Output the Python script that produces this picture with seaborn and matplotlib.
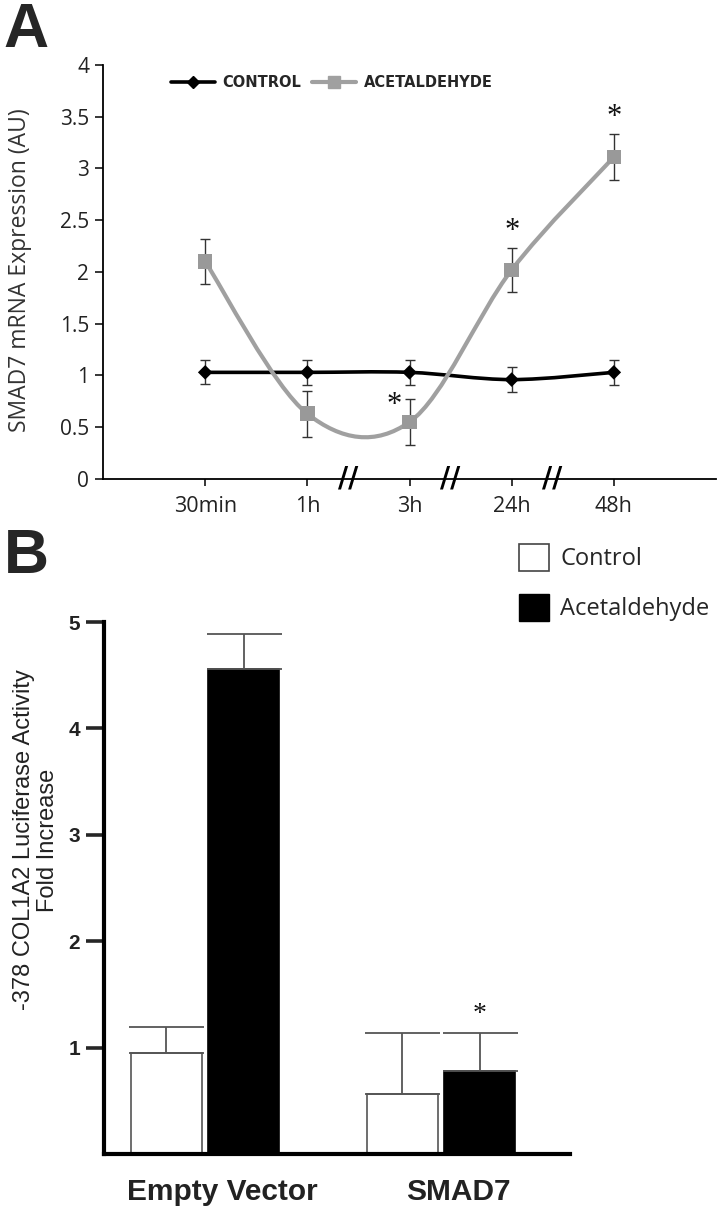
import numpy as np
import pandas as pd
import matplotlib
matplotlib.use('Agg')
import matplotlib.pyplot as plt
import seaborn as sns
from matplotlib.path import Path
from matplotlib.patches import PathPatch, Patch
from matplotlib.lines import Line2D
from matplotlib.transforms import ScaledTranslation

# --- panel A: SMAD7 mRNA over time ---
time_points = ['30min', '1h', '3h', '24h', '48h']
control_mean = [1.03, 1.03, 1.03, 0.96, 1.03]
control_err = [0.115, 0.12, 0.12, 0.12, 0.12]
acet_mean = [2.10, 0.63, 0.55, 2.02, 3.11]
acet_err = [0.215, 0.22, 0.22, 0.215, 0.22]
acet_signif = ['3h', '24h', '48h']

# --- panel B: luciferase reporter ---
constructs = ['Empty Vector', 'SMAD7']
treatments = ['Control', 'Acetaldehyde']
luc_control = [0.95, 0.56]
luc_control_err = [0.24, 0.58]
luc_acet = [4.56, 0.78]
luc_acet_err = [0.33, 0.36]
luc_signif = ['SMAD7']

sns.set_style('white')
plt.rcParams['font.family'] = ['Open Sans', 'DejaVu Sans']


def smooth_path(xs, ys):
    # excel-like smoothed line (bezier through every point)
    pts = np.column_stack([xs, ys]).astype(float)
    n = len(pts)
    verts = [pts[0]]
    codes = [Path.MOVETO]
    for i in range(n - 1):
        p0 = pts[max(i - 1, 0)]
        p1 = pts[i]
        p2 = pts[i + 1]
        p3 = pts[min(i + 2, n - 1)]
        verts += [p1 + (p2 - p0) / 6, p2 - (p3 - p1) / 6, p2]
        codes += [Path.CURVE4] * 3
    return Path(verts, codes)


fig = plt.figure(figsize=(7.19, 12.24), dpi=100)

# ================= A =================
axA = fig.add_axes([0.1433, 0.6087, 0.8525, 0.3382])
x_idx = np.arange(len(time_points))
grey = '#a0a0a0'

dfA = pd.DataFrame({
    't': np.tile(x_idx, 2),
    'expr': control_mean + acet_mean,
    'group': ['CONTROL'] * len(time_points) + ['ACETALDEHYDE'] * len(time_points),
})

axA.errorbar(x_idx, control_mean, yerr=control_err, fmt='none', ecolor='#333333',
             elinewidth=1, capsize=3.5, capthick=1, zorder=2)
axA.errorbar(x_idx, acet_mean, yerr=acet_err, fmt='none', ecolor='#333333',
             elinewidth=1, capsize=3.5, capthick=1, zorder=2)

axA.add_patch(PathPatch(smooth_path(x_idx, control_mean), fill=False,
                        edgecolor='black', lw=2.6, zorder=3))
axA.add_patch(PathPatch(smooth_path(x_idx, acet_mean), fill=False,
                        edgecolor=grey, lw=3, zorder=4))

sns.scatterplot(data=dfA[dfA.group == 'CONTROL'], x='t', y='expr', marker='D',
                color='black', s=55, edgecolor='none', ax=axA, zorder=5, legend=False)
sns.scatterplot(data=dfA[dfA.group == 'ACETALDEHYDE'], x='t', y='expr', marker='s',
                color='#999999', s=110, edgecolor='none', ax=axA, zorder=6, legend=False)

for t in acet_signif:
    i = time_points.index(t)
    top = acet_mean[i] + acet_err[i]
    if t == '3h':
        xs, ys = i - 0.15, top - 0.06
    else:
        xs, ys = i, top + 0.16
    axA.text(xs, ys, '*', ha='center', va='center', fontsize=22,
             family='Liberation Serif', color='#111111')

# axis breaks
for xb in [1.4, 2.4, 3.4]:
    axA.text(xb, 0, '//', ha='center', va='center', fontsize=20, family='DejaVu Sans',
             fontweight='bold', color='black', clip_on=False, zorder=7)

axA.set_xlim(-1, 5)
axA.set_ylim(0, 4)
axA.set_xticks(x_idx)
axA.set_xticklabels(time_points)
yt = np.arange(0, 4.01, 0.5)
axA.set_yticks(yt)
axA.set_yticklabels([f'{v:g}' for v in yt])
axA.set_xlabel('')
axA.set_ylabel('')
for side in ['top', 'right']:
    axA.spines[side].set_visible(False)
for side in ['left', 'bottom']:
    axA.spines[side].set_color('black')
    axA.spines[side].set_linewidth(1.3)
axA.tick_params(axis='y', direction='out', length=6, width=1.3, labelsize=15,
                pad=4, left=True, labelcolor='#222222')
axA.tick_params(axis='x', direction='out', length=5, width=1.3, labelsize=15.5,
                pad=7, bottom=True, labelcolor='#222222')

handles = [Line2D([], [], color='black', lw=2.6, marker='D', ms=6),
           Line2D([], [], color=grey, lw=3, marker='s', ms=9)]
axA.legend(handles, ['CONTROL', 'ACETALDEHYDE'], loc='center',
           bbox_to_anchor=(0.373, 0.957), ncol=2, frameon=False,
           prop=dict(family='DejaVu Sans', weight='bold', size=10.5),
           handlelength=3.0, handletextpad=0.5, columnspacing=0.8)

fig.text(20 / 719, 1 - 270 / 1224, 'SMAD7 mRNA Expression (AU)', rotation=90,
         ha='center', va='center', fontsize=16.5, color='#333333')
fig.text(0.005, 1 - 47 / 1224, 'A', fontsize=45, fontweight='bold',
         family='Liberation Sans', va='baseline')

# ================= B =================
axB = fig.add_axes([0.1446, 0.0572, 0.6482, 0.4346])
dfB = pd.DataFrame({
    'construct': constructs * 2,
    'treatment': [treatments[0]] * len(constructs) + [treatments[1]] * len(constructs),
    'fold': luc_control + luc_acet,
})
sns.barplot(data=dfB, x='construct', y='fold', hue='treatment', order=constructs,
            hue_order=treatments, palette={'Control': 'white', 'Acetaldehyde': 'black'},
            width=0.657, gap=0.084, errorbar=None, legend=False, ax=axB)

errs = [luc_control_err, luc_acet_err]
edge = ['#555555', 'black']
for cont, err, ec in zip(axB.containers, errs, edge):
    xs, ys = [], []
    for bar in cont:
        bar.set_edgecolor(ec)
        bar.set_linewidth(1.2)
        xs.append(bar.get_x() + bar.get_width() / 2)
        ys.append(bar.get_height())
    axB.errorbar(xs, ys, yerr=[np.zeros(len(err)), err], fmt='none', ecolor='#555555',
                 elinewidth=1.3, capsize=27, capthick=1.3, zorder=1)

acet_bars = axB.containers[1]
for c in luc_signif:
    j = constructs.index(c)
    bar = acet_bars[j]
    axB.text(bar.get_x() + bar.get_width() / 2, luc_acet[j] + luc_acet_err[j] + 0.17, '*',
             ha='center', va='center', fontsize=20, family='Liberation Serif', color='#111111')

axB.set_xlim(-0.429, 1.547)
axB.set_ylim(0, 5)
axB.set_yticks([1, 2, 3, 4, 5])
axB.set_xlabel('')
axB.set_ylabel('')
for side in ['top', 'right']:
    axB.spines[side].set_visible(False)
for side in ['left', 'bottom']:
    axB.spines[side].set_color('black')
    axB.spines[side].set_linewidth(3)
axB.tick_params(axis='y', direction='out', length=13, width=2.6, labelsize=15, pad=4, left=True)
axB.tick_params(axis='x', length=0, labelsize=21.5, pad=17)
for lab in axB.get_yticklabels():
    lab.set_family('Liberation Sans')
    lab.set_fontweight('bold')
    lab.set_color('#222222')
shift = ScaledTranslation(0.17, 0, fig.dpi_scale_trans)
for lab in axB.get_xticklabels():
    lab.set_family('Liberation Sans')
    lab.set_fontweight('bold')
    lab.set_color('#222222')
    lab.set_transform(lab.get_transform() + shift)

fig.text(36 / 719, 1 - 840 / 1224, '-378 COL1A2 Luciferase Activity\nFold Increase',
         rotation=90, ha='center', va='center', multialignment='center',
         fontsize=17, family='Liberation Sans', color='#222222', linespacing=1.1)

leg_handles = [Patch(facecolor='white', edgecolor='#444444', lw=1.2),
               Patch(facecolor='black', edgecolor='black')]
fig.legend(leg_handles, treatments, loc='upper left',
           bbox_to_anchor=(519 / 719, 1 - 544 / 1224), frameon=False, borderpad=0,
           borderaxespad=0, handlelength=1.25, handleheight=1.4, handletextpad=0.5,
           labelspacing=0.95, prop=dict(family='Open Sans', size=17))
fig.text(0.005, 1 - 573 / 1224, 'B', fontsize=45, fontweight='bold',
         family='Liberation Sans', va='baseline')

fig.savefig('out.png', dpi=100, facecolor='white')
